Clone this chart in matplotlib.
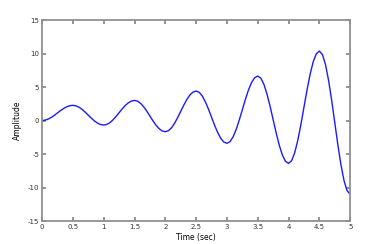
import matplotlib
matplotlib.use("Agg")
import matplotlib.pyplot as plt

time_sec = [0.00, 0.05, 0.10, 0.15, 0.20, 0.25, 0.30, 0.35, 0.40, 0.45,
            0.50, 0.55, 0.60, 0.65, 0.70, 0.75, 0.80, 0.85, 0.90, 0.95,
            1.00, 1.05, 1.10, 1.15, 1.20, 1.25, 1.30, 1.35, 1.40, 1.45,
            1.50, 1.55, 1.60, 1.65, 1.70, 1.75, 1.80, 1.85, 1.90, 1.95,
            2.00, 2.05, 2.10, 2.15, 2.20, 2.25, 2.30, 2.35, 2.40, 2.45,
            2.50, 2.55, 2.60, 2.65, 2.70, 2.75, 2.80, 2.85, 2.90, 2.95,
            3.00, 3.05, 3.10, 3.15, 3.20, 3.25, 3.30, 3.35, 3.40, 3.45,
            3.50, 3.55, 3.60, 3.65, 3.70, 3.75, 3.80, 3.85, 3.90, 3.95,
            4.00, 4.05, 4.10, 4.15, 4.20, 4.25, 4.30, 4.35, 4.40, 4.45,
            4.50, 4.55, 4.60, 4.65, 4.70, 4.75, 4.80, 4.85, 4.90, 4.95,
            5.00]
amplitude = [0.00, 0.06, 0.22, 0.47, 0.78, 1.14, 1.49, 1.80, 2.05, 2.21,
             2.27, 2.20, 1.99, 1.66, 1.25, 0.80, 0.35, -0.06, -0.39, -0.60,
             -0.67, -0.58, -0.32, 0.09, 0.60, 1.17, 1.73, 2.24, 2.65, 2.91,
             3.00, 2.89, 2.55, 2.04, 1.39, 0.67, -0.06, -0.71, -1.22, -1.56,
             -1.67, -1.52, -1.09, -0.42, 0.43, 1.37, 2.30, 3.15, 3.82, 4.25,
             4.40, 4.21, 3.66, 2.79, 1.71, 0.50, -0.71, -1.79, -2.66, -3.21,
             -3.40, -3.15, -2.44, -1.33, 0.07, 1.62, 3.17, 4.57, 5.68, 6.39,
             6.64, 6.32, 5.40, 3.95, 2.13, 0.12, -1.89, -3.71, -5.16, -6.08,
             -6.40, -5.99, -4.80, -2.94, -0.61, 1.99, 4.58, 6.91, 8.77, 9.96,
             10.37, 9.85, 8.33, 5.96, 2.99, -0.32, -3.62, -6.60, -8.96, -10.48,
             -11.00]

x_ticks = [0, 0.5, 1, 1.5, 2, 2.5, 3, 3.5, 4, 4.5, 5]
x_tick_labels = ["0", "0.5", "1", "1.5", "2", "2.5", "3", "3.5", "4", "4.5", "5"]
y_ticks = [-15, -10, -5, 0, 5, 10, 15]
y_tick_labels = ["-15", "-10", "-5", "0", "5", "10", "15"]

fig = plt.figure(figsize=(3.69, 2.44), dpi=100)
ax = fig.add_axes([0.114, 0.094, 0.835, 0.824])
ax.plot(time_sec, amplitude, color="#1a1aff", lw=1.0)
ax.set_xlim(0, 5)
ax.set_ylim(-15, 15)
ax.set_xticks(x_ticks)
ax.set_xticklabels(x_tick_labels)
ax.set_yticks(y_ticks)
ax.set_yticklabels(y_tick_labels)
ax.tick_params(direction="in", length=3, width=1.2, color="#808080",
               labelsize=5, top=True, right=True, pad=2, labelcolor="#333333")
for s in ax.spines.values():
    s.set_color("#909090")
    s.set_linewidth(1.3)
ax.set_xlabel("Time (sec)", fontsize=5.5, labelpad=2)
ax.set_ylabel("Amplitude", fontsize=5.5, labelpad=4)
fig.savefig("out.png", dpi=100)
